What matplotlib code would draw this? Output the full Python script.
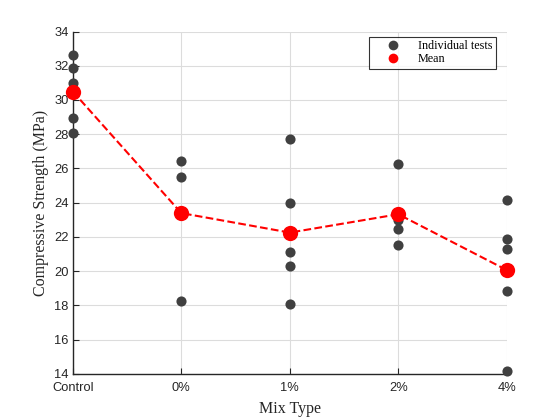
import matplotlib
matplotlib.use("Agg")
import matplotlib.pyplot as plt
from matplotlib.lines import Line2D

# values
mix_types = ["Control", "0%", "1%", "2%", "4%"]
control_tests = [32.6, 31.84, 31.0, 28.95, 28.08]
pct0_tests = [26.46, 25.48, 18.23]
pct1_tests = [27.74, 24.0, 21.12, 20.30, 18.09]
pct2_tests = [26.28, 23.0, 22.47, 21.54]
pct4_tests = [24.13, 21.89, 21.29, 18.81, 14.18]
all_tests = [control_tests, pct0_tests, pct1_tests, pct2_tests, pct4_tests]
means = [sum(t) / len(t) for t in all_tests]

TICK_COLOR = "#262626"
POINT_COLOR = "#404040"

fig = plt.figure(figsize=(5.6, 4.2), dpi=100)
ax = fig.add_axes([0.13, 0.11, 0.775, 0.815])

xs = list(range(1, len(mix_types) + 1))
for i, tests in enumerate(all_tests):
    ax.plot([xs[i]] * len(tests), tests, "o", color=POINT_COLOR, markersize=7.3,
            markeredgewidth=0, zorder=3, clip_on=False)

ax.plot(xs, means, "--", color="red", linewidth=1.5, zorder=4, clip_on=False)
ax.plot(xs, means, "o", color="red", markersize=11, markeredgewidth=0, zorder=5, clip_on=False)

ax.set_xlim(1, 5)
ax.set_ylim(14, 34)
ax.set_xticks(xs)
ax.set_xticklabels(mix_types)
ax.set_yticks(range(14, 35, 2))
ax.grid(True, color="#dcdcdc", linewidth=0.8)
ax.set_axisbelow(True)

for side in ["top", "right"]:
    ax.spines[side].set_visible(False)
for side in ["left", "bottom"]:
    ax.spines[side].set_color(TICK_COLOR)
    ax.spines[side].set_linewidth(1.0)

ax.tick_params(direction="in", length=4, colors=TICK_COLOR, labelsize=9.3)
ax.tick_params(axis="x", pad=6)
ax.tick_params(axis="y", pad=3)
for lbl in ax.get_xticklabels() + ax.get_yticklabels():
    lbl.set_family("Liberation Sans")

ax.set_xlabel("Mix Type", family="Liberation Serif", fontsize=11.5, color=TICK_COLOR, labelpad=5)
ax.set_ylabel("Compressive Strength (MPa)", family="Liberation Serif", fontsize=11.5, color=TICK_COLOR)

handles = [
    Line2D([], [], linestyle="none", marker="o", color=POINT_COLOR, markersize=7, markeredgewidth=0),
    Line2D([], [], linestyle="none", marker="o", color="red", markersize=7, markeredgewidth=0),
]
leg = ax.legend(handles, ["Individual tests", "Mean"], loc="upper right",
                bbox_to_anchor=(0.975, 0.985),
                prop={"family": "Liberation Serif", "size": 8.7},
                frameon=True, fancybox=False, borderaxespad=0.0, handletextpad=0.4,
                labelspacing=0.1, borderpad=0.3, handlelength=3.3)
leg.get_frame().set_edgecolor("black")
leg.get_frame().set_linewidth(0.8)

fig.savefig("out.png", dpi=100)
